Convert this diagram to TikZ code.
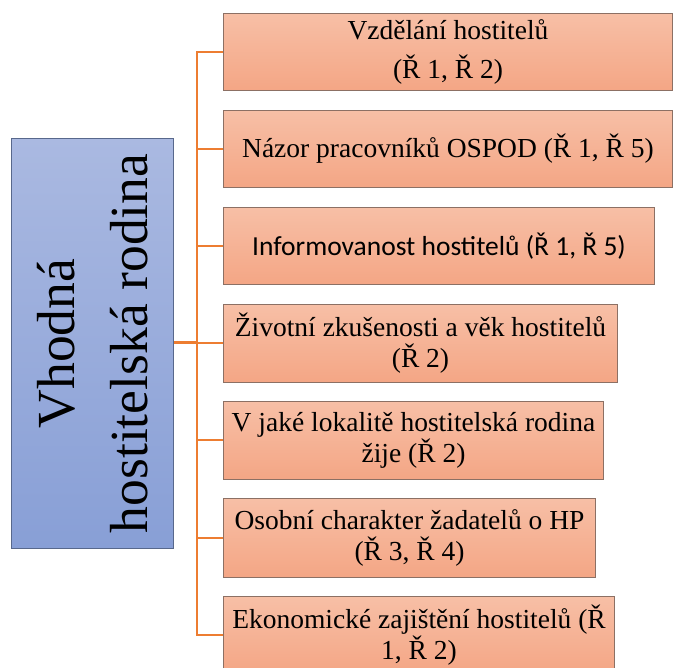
\documentclass[tikz,border=0pt]{standalone}
\usepackage{fontspec}
\setmainfont{Liberation Serif}
\newfontfamily\calfont{Carlito}
\definecolor{boxtop}{RGB}{247,191,166}
\definecolor{boxbot}{RGB}{244,166,133}
\definecolor{boxline}{RGB}{140,112,100}
\definecolor{roottop}{RGB}{170,185,225}
\definecolor{rootbot}{RGB}{136,159,214}
\definecolor{rootline}{RGB}{88,104,140}
\definecolor{branchcol}{RGB}{237,125,49}
\tikzset{
  item/.style={draw=boxline,line width=1pt,top color=boxtop,bottom color=boxbot,
    anchor=north west,inner sep=0pt,align=center,minimum height=77pt,
    font=\fontsize{27.5}{31}\selectfont},
  rootbox/.style={draw=rootline,line width=1pt,top color=roottop,bottom color=rootbot,
    anchor=north west,minimum width=162pt,minimum height=410pt},
  branch/.style={draw=branchcol,line width=2pt},
}
\begin{document}
\begin{tikzpicture}[x=1pt,y=-1pt]
\clip (0,0) rectangle (673,668);

\node[rootbox] (root) at (11,138) {};
\node[rotate=90,align=center,inner sep=0pt,font=\fontsize{53.6}{73}\selectfont] (rootlabel) at (root.center) {Vhodná\\hostitelská rodina};

\node[item,minimum width=449pt] (b1) at (223,13) {Vzdělání hostitelů\\[8pt](Ř 1, Ř 2)};
\node[item,minimum width=449pt] (b2) at (223,110) {Názor pracovníků OSPOD (Ř 1, Ř 5)};
\node[item,minimum width=431pt] (b3) at (223,207) {\calfont Informovanost hostitelů (Ř 1, Ř 5)};
\node[item,minimum width=394pt,minimum height=78pt] (b4) at (223,304) {Životní zkušenosti a věk hostitelů\\(Ř 2)};
\node[item,minimum width=380pt,minimum height=78pt] (b5) at (223,401) {V jaké lokalitě hostitelská rodina\\žije (Ř 2)};
\node[item,minimum width=372pt,minimum height=79pt] (b6) at (223,498) {Osobní charakter žadatelů o HP\\(Ř 3, Ř 4)};
\node[item,minimum width=391pt] (b7) at (223,596) {Ekonomické zajištění hostitelů (Ř\\1, Ř 2)};

\coordinate (hub) at (197,343);

\draw[branch,line width=3pt] (root.east |- hub) -- (hub);
\draw[branch] (hub) |- (b1.west);
\draw[branch] (hub) |- (b2.west);
\draw[branch] (hub) |- (b3.west);
\draw[branch] (hub) |- (b4.west);
\draw[branch] (hub) |- (b5.west);
\draw[branch] (hub) |- (b6.west);
\draw[branch] (hub) |- (b7.west);
\end{tikzpicture}
\end{document}
